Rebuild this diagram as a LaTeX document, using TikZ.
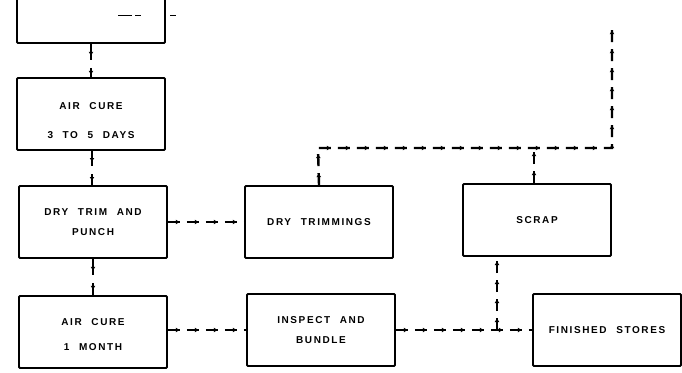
\documentclass[tikz,border=0pt]{standalone}
\usepackage{fontspec}
\newfontfamily\boxfont{Liberation Sans}[LetterSpace=16,WordSpace=2.2]
\usetikzlibrary{arrows.meta,decorations.markings}

\tikzset{
  stage/.style={draw, line width=1.8pt, rounded corners=1pt, minimum width=148pt,
    minimum height=72pt, align=center, font=\boxfont\bfseries\fontsize{10}{20}\selectfont},
  flow/.style={line width=2.4pt, dash pattern=on 12pt off 7pt,
    postaction={decorate, decoration={markings,
      mark=between positions 12pt and -2pt step 19pt with {\arrow{Latex[length=4pt,width=5pt]}}}}}
}

\begin{document}
\begin{tikzpicture}[x=1pt,y=1pt]
    \clip (0,0) rectangle (682,-372);
    \fill[white] (0,0) rectangle (682,-372);
    % Boxes, left column
    \node[stage, minimum height=120pt] (mould) at (91,17) {};
    \node[stage] (cure) at (91,-114) {\rule{0pt}{21pt}AIR CURE\\[9pt]3 TO 5 DAYS};
    \node[stage] (trim) at (93,-222) {DRY TRIM AND\\PUNCH};
    \node[stage] (month) at (93,-332) {\rule{0pt}{13pt}AIR CURE\\[5pt]1 MONTH};
    % Boxes, middle and right
    \node[stage] (trimmings) at (319,-222) {DRY TRIMMINGS};
    \node[stage] (inspect) at (321,-330) {INSPECT AND\\BUNDLE};
    \node[stage] (scrap) at (537,-220) {SCRAP};
    \node[stage] (stores) at (607,-330) {FINISHED STORES};
    % Corner points of the scrap line
    \coordinate (up) at (318,-148);
    \coordinate (corner) at (612,-148);
    \coordinate (out) at (612,-26);
    \coordinate (tee) at (534,-148);
    \coordinate (split) at (497,-330);
    % Main line
    \draw[flow, dash pattern=on 16pt off 8pt] (mould.south) -- (cure.north -| mould.south);
    \draw[flow, dash pattern=on 16pt off 8pt] (92,-150) -- (trim.north -| 92,0);
    \draw[flow, dash pattern=on 16pt off 8pt] (trim.south) -- (month.north);
    \draw[flow] (month.east |- inspect.west) -- (inspect.west);
    \draw[flow] (inspect.east) -- (stores.west);
    % Trimmings and scrap
    \draw[flow] (trim.east) -- (trimmings.west);
    \draw[flow] (trimmings.north) -- (up) -- (corner) -- (out);
    \draw[flow] (scrap.north -| tee) -- (tee);
    \draw[flow] (split) -- (scrap.south -| split);
    % left over marks at the top
    \draw[line width=1pt] (118,-15) -- (132,-15) (135,-15) -- (141,-15) (170,-15) -- (176,-15);
\end{tikzpicture}
\end{document}
